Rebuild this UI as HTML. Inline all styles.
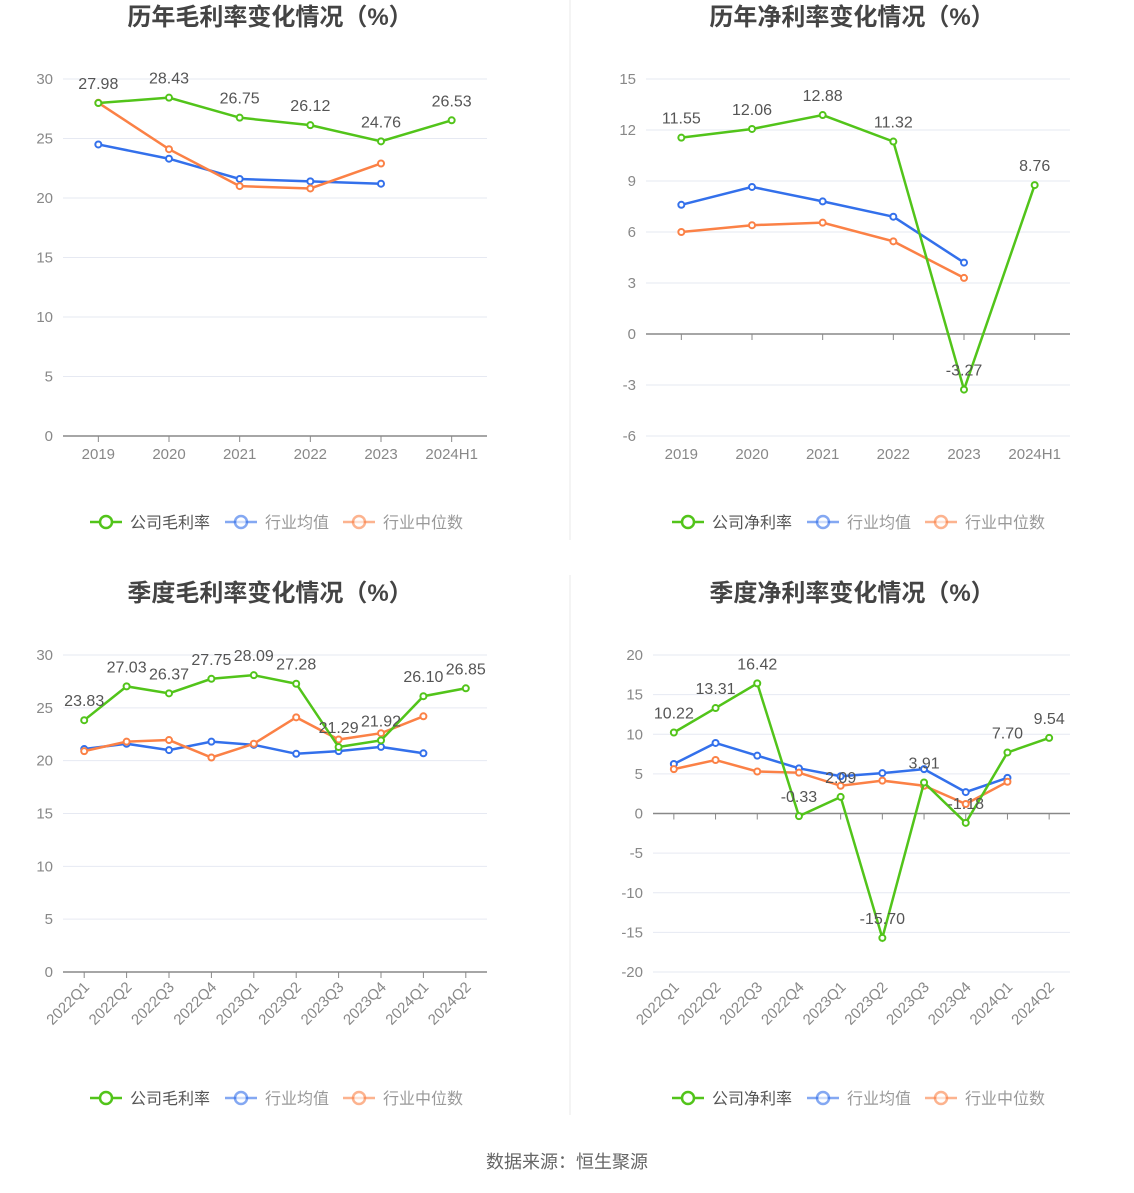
<!DOCTYPE html>
<html><head><meta charset="utf-8"><style>
body{margin:0;background:#fff;font-family:"Liberation Sans","Noto Sans CJK SC",sans-serif;}
svg text{font-family:"Liberation Sans","Noto Sans CJK SC",sans-serif;}
</style></head><body>
<svg id="s" width="1134" height="1188" xmlns="http://www.w3.org/2000/svg">
<line x1="570" y1="0" x2="570" y2="540" stroke="#e8e8e8"/>
<line x1="570" y1="575" x2="570" y2="1115" stroke="#e8e8e8"/>
<text x="567" y="1168" text-anchor="middle" font-size="18" fill="#666">数据来源：恒生聚源</text>
</svg>
<script>
const annualCats=["2019","2020","2021","2022","2023","2024H1"];
const quarterCats=["2022Q1","2022Q2","2022Q3","2022Q4","2023Q1","2023Q2","2023Q3","2023Q4","2024Q1","2024Q2"];
const grossAnnualCompany=[27.98,28.43,26.75,26.12,24.76,26.53];
const grossAnnualAvg=[24.5,23.3,21.6,21.4,21.2];
const grossAnnualMed=[28.0,24.1,21.0,20.8,22.9];
const netAnnualCompany=[11.55,12.06,12.88,11.32,-3.27,8.76];
const netAnnualAvg=[7.6,8.65,7.8,6.9,4.2];
const netAnnualMed=[6.0,6.4,6.55,5.45,3.3];
const grossQCompany=[23.83,27.03,26.37,27.75,28.09,27.28,21.29,21.92,26.10,26.85];
const grossQAvg=[21.1,21.6,21.0,21.8,21.5,20.65,20.9,21.3,20.7];
const grossQMed=[20.9,21.8,21.95,20.3,21.6,24.1,22.0,22.6,24.2];
const netQCompany=[10.22,13.31,16.42,-0.33,2.09,-15.70,3.91,-1.18,7.70,9.54];
const netQAvg=[6.25,8.9,7.3,5.7,4.7,5.1,5.6,2.7,4.5];
const netQMed=[5.6,6.75,5.3,5.15,3.5,4.15,3.5,1.2,4.0];
const grossTicks=[0,5,10,15,20,25,30];
const netAnnualTicks=[-6,-3,0,3,6,9,12,15];
const netQTicks=[-20,-15,-10,-5,0,5,10,15,20];

const S=document.getElementById('s');
const NS="http://www.w3.org/2000/svg";
function mk(tag,a,parent){const e=document.createElementNS(NS,tag);for(const k in a)e.setAttribute(k,a[k]);(parent||S).appendChild(e);return e;}
const G="#52c41a",B="#3370eb",O="#fb8146";

function chart(o){
  const g=mk('g',{});
  
  
  const t=mk('text',{x:o.cx,y:o.ty,'text-anchor':'middle','font-size':24,'font-weight':'bold',fill:'#444'},g);
  t.textContent=o.title;
  
  
  const ymin=o.ticks[0],ymax=o.ticks[o.ticks.length-1];
  const y=v=>o.yb-(v-ymin)/(ymax-ymin)*(o.yb-o.yt);
  const n=o.cats.length,step=(o.x1-o.x0)/n;
  const x=i=>o.x0+step*(i+0.5);
  o.ticks.forEach(v=>{
    const gl=mk('line',{x1:o.x0,x2:o.x1,y1:y(v),y2:y(v),stroke:'#e6e9f2'},g);
    
    
    const tl=mk('text',{x:o.x0-10,y:y(v)+5,'text-anchor':'end','font-size':15,fill:'#888'},g);
    tl.textContent=v;
    
    
  });
  const ay=y(Math.max(0,ymin));
  const ax=mk('line',{x1:o.x0,x2:o.x1,y1:ay,y2:ay,stroke:'#888','stroke-width':1.5},g);
  
  
  o.cats.forEach((c,i)=>{
    mk('line',{x1:x(i),x2:x(i),y1:ay,y2:ay+6,stroke:'#888'},g);
    let l;
    if(o.rot){l=mk('text',{x:x(i)+6,y:o.yb+16,'text-anchor':'end','font-size':15,fill:'#888',transform:`rotate(-45 ${x(i)+6} ${o.yb+16})`},g);}
    else l=mk('text',{x:x(i),y:o.yb+23,'text-anchor':'middle','font-size':15,fill:'#888'},g);
    l.textContent=c;
    
    
  });
  function series(vals,col,nm,lab){
    const p=mk('polyline',{points:vals.map((v,i)=>x(i)+','+y(v)).join(' '),fill:'none',stroke:col,'stroke-width':2.5},g);
    
    
    vals.forEach((v,i)=>{
      const c=mk('circle',{cx:x(i),cy:y(v),r:3,fill:'#fff',stroke:col,'stroke-width':2},g);
      
      
      if(lab){const tx=mk('text',{x:x(i),y:y(v)-14,'text-anchor':'middle','font-size':16,fill:'#555'},g);
        tx.textContent=v.toFixed(2);
        
        }
    });
  }
  series(o.avg,B,'industry-average',false);
  series(o.med,O,'industry-median',false);
  series(o.co,G,'company',true);
  const lx=o.lx,ly=o.ly;
  [[G,o.lname,0],[B,'行业均值',135],[O,'行业中位数',253]].forEach(([col,txt,dx],k)=>{
    const lg=mk('g',{},g);
    
    
    mk('line',{x1:lx+dx,x2:lx+dx+32,y1:ly,y2:ly,stroke:col,'stroke-width':2.5,opacity:k?0.6:1},lg);
    mk('circle',{cx:lx+dx+16,cy:ly,r:6,fill:'#fff',stroke:col,'stroke-width':2.5,opacity:k?0.6:1},lg);
    const tt=mk('text',{x:lx+dx+40,y:ly+6,'font-size':16,fill:k?'#999':'#555'},lg);
    tt.textContent=txt;
  });
}
chart({name:'annual-gross-margin-chart',title:'历年毛利率变化情况（%）',cx:270,ty:25,x0:63,x1:487,yt:79,yb:436,ticks:grossTicks,cats:annualCats,co:grossAnnualCompany,avg:grossAnnualAvg,med:grossAnnualMed,lname:'公司毛利率',lx:90,ly:522});
chart({name:'annual-net-margin-chart',title:'历年净利率变化情况（%）',cx:852,ty:25,x0:646,x1:1070,yt:79,yb:436,ticks:netAnnualTicks,cats:annualCats,co:netAnnualCompany,avg:netAnnualAvg,med:netAnnualMed,lname:'公司净利率',lx:672,ly:522});
chart({name:'quarterly-gross-margin-chart',title:'季度毛利率变化情况（%）',cx:270,ty:601,x0:63,x1:487,yt:655,yb:972,ticks:grossTicks,cats:quarterCats,co:grossQCompany,avg:grossQAvg,med:grossQMed,lname:'公司毛利率',lx:90,ly:1098,rot:true});
chart({name:'quarterly-net-margin-chart',title:'季度净利率变化情况（%）',cx:852,ty:601,x0:653,x1:1070,yt:655,yb:972,ticks:netQTicks,cats:quarterCats,co:netQCompany,avg:netQAvg,med:netQMed,lname:'公司净利率',lx:672,ly:1098,rot:true});
</script>
</body></html>
